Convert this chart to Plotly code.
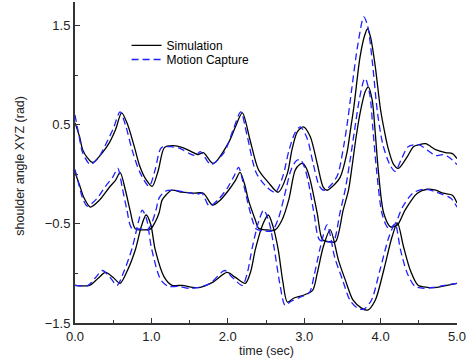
import plotly.graph_objects as go

# ---- data ----
sim_a_t = [0.00,0.06,0.10,0.16,0.23,0.36,0.45,0.53,0.61,0.68,0.78,0.84,0.92,1.01,1.09,1.17,1.28,1.41,1.55,1.61,1.68,1.81,2.01,2.10,2.19,2.29,2.40,2.53,2.66,2.78,2.84,2.91,2.99,3.08,3.17,3.25,3.30,3.40,3.47,3.56,3.60,3.65,3.73,3.79,3.83,3.87,3.93,4.00,4.06,4.10,4.17,4.23,4.35,4.43,4.50,4.59,4.72,4.85,4.94,5.00]
sim_a_y = [0.52,0.38,0.25,0.17,0.12,0.22,0.32,0.45,0.62,0.52,0.27,0.10,-0.04,-0.12,0.04,0.27,0.29,0.27,0.22,0.20,0.22,0.11,0.32,0.48,0.62,0.35,0.05,-0.08,-0.18,0.01,0.25,0.43,0.48,0.38,0.11,-0.13,-0.16,-0.10,-0.03,0.22,0.42,0.68,1.18,1.40,1.47,1.38,1.09,0.65,0.40,0.26,0.10,0.06,0.18,0.28,0.30,0.31,0.25,0.22,0.21,0.16]

mocap_a_t = [0.00,0.05,0.10,0.20,0.30,0.40,0.50,0.59,0.66,0.75,0.85,0.97,1.05,1.13,1.25,1.38,1.50,1.58,1.64,1.78,1.95,2.07,2.17,2.25,2.37,2.50,2.62,2.72,2.80,2.88,2.95,3.04,3.12,3.20,3.26,3.36,3.44,3.52,3.57,3.62,3.70,3.78,3.83,3.89,3.96,4.03,4.12,4.19,4.27,4.36,4.50,4.62,4.72,4.82,4.90,5.00]
mocap_a_y = [0.60,0.40,0.22,0.10,0.16,0.30,0.46,0.63,0.50,0.24,0.02,-0.12,0.05,0.27,0.28,0.26,0.21,0.19,0.23,0.10,0.22,0.45,0.63,0.40,0.02,-0.12,-0.18,-0.02,0.24,0.42,0.48,0.36,0.10,-0.12,-0.16,-0.10,0.00,0.30,0.55,0.85,1.30,1.59,1.50,1.15,0.62,0.30,0.10,0.03,0.15,0.28,0.30,0.24,0.19,0.20,0.17,0.10]

sim_b_t = [0.00,0.06,0.12,0.20,0.32,0.45,0.53,0.59,0.66,0.72,0.79,0.90,0.99,1.05,1.10,1.14,1.20,1.27,1.40,1.55,1.68,1.80,1.90,2.01,2.10,2.16,2.22,2.27,2.36,2.40,2.50,2.62,2.71,2.80,2.88,2.94,2.98,3.03,3.08,3.17,3.24,3.33,3.41,3.51,3.58,3.63,3.68,3.74,3.80,3.84,3.89,3.93,3.97,4.04,4.13,4.22,4.32,4.48,4.61,4.72,4.82,4.94,5.00]
sim_b_y = [0.02,-0.11,-0.24,-0.33,-0.26,-0.13,-0.06,0.02,-0.16,-0.36,-0.55,-0.56,-0.55,-0.48,-0.39,-0.26,-0.20,-0.16,-0.18,-0.19,-0.19,-0.31,-0.26,-0.16,-0.06,0.02,-0.10,-0.26,-0.46,-0.54,-0.56,-0.56,-0.46,-0.25,0.04,0.10,0.11,0.06,-0.06,-0.39,-0.66,-0.68,-0.68,-0.36,-0.16,0.10,0.38,0.65,0.84,0.88,0.75,0.42,0.04,-0.39,-0.53,-0.51,-0.36,-0.19,-0.15,-0.16,-0.19,-0.21,-0.29]

mocap_b_t = [0.00,0.05,0.10,0.16,0.28,0.40,0.50,0.56,0.62,0.68,0.74,0.85,0.95,1.01,1.06,1.10,1.18,1.30,1.45,1.60,1.66,1.76,1.88,2.00,2.08,2.14,2.20,2.26,2.33,2.37,2.48,2.58,2.66,2.74,2.83,2.90,2.95,3.00,3.05,3.13,3.20,3.30,3.38,3.47,3.54,3.60,3.66,3.72,3.78,3.80,3.86,3.90,3.95,4.02,4.10,4.19,4.28,4.42,4.56,4.70,4.80,4.92,5.00]
mocap_b_y = [0.05,-0.10,-0.24,-0.32,-0.25,-0.12,-0.02,0.06,-0.14,-0.36,-0.54,-0.55,-0.56,-0.48,-0.36,-0.24,-0.17,-0.16,-0.18,-0.20,-0.19,-0.32,-0.25,-0.13,-0.02,0.07,-0.08,-0.28,-0.48,-0.55,-0.57,-0.57,-0.45,-0.22,0.05,0.14,0.15,0.08,-0.06,-0.40,-0.66,-0.68,-0.68,-0.38,-0.14,0.14,0.45,0.75,0.95,0.97,0.80,0.45,0.02,-0.40,-0.54,-0.50,-0.34,-0.19,-0.15,-0.17,-0.20,-0.24,-0.33]

sim_c_t = [0.00,0.19,0.30,0.40,0.50,0.59,0.68,0.79,0.87,0.93,0.99,1.05,1.17,1.27,1.40,1.54,1.64,1.80,1.99,2.10,2.23,2.30,2.36,2.46,2.53,2.59,2.66,2.72,2.78,2.86,2.99,3.11,3.17,3.25,3.34,3.45,3.54,3.64,3.75,3.83,3.93,4.04,4.15,4.22,4.30,4.39,4.49,4.61,4.74,4.87,5.00]
sim_c_y = [-1.12,-1.12,-1.05,-0.99,-1.04,-1.10,-0.98,-0.76,-0.52,-0.41,-0.50,-0.76,-1.04,-1.12,-1.12,-1.14,-1.14,-1.09,-0.99,-1.04,-1.10,-0.98,-0.76,-0.50,-0.41,-0.52,-0.76,-1.08,-1.29,-1.25,-1.22,-1.17,-1.00,-0.73,-0.56,-0.87,-1.07,-1.27,-1.35,-1.37,-1.27,-0.97,-0.63,-0.49,-0.73,-0.97,-1.12,-1.14,-1.14,-1.12,-1.10]

mocap_c_t = [0.00,0.17,0.27,0.36,0.46,0.55,0.64,0.75,0.83,0.88,0.94,1.00,1.12,1.22,1.35,1.50,1.62,1.77,1.96,2.06,2.19,2.26,2.32,2.41,2.47,2.54,2.61,2.68,2.75,2.83,2.95,3.07,3.13,3.21,3.30,3.40,3.50,3.60,3.70,3.78,3.88,3.99,4.11,4.19,4.26,4.35,4.45,4.57,4.70,4.84,5.00]
mocap_c_y = [-1.12,-1.12,-1.04,-0.97,-1.04,-1.12,-0.98,-0.74,-0.48,-0.36,-0.46,-0.74,-1.06,-1.13,-1.13,-1.15,-1.14,-1.10,-0.97,-1.04,-1.12,-0.98,-0.74,-0.46,-0.36,-0.48,-0.76,-1.10,-1.32,-1.28,-1.24,-1.19,-1.02,-0.74,-0.51,-0.84,-1.06,-1.27,-1.35,-1.36,-1.27,-0.97,-0.63,-0.50,-0.76,-1.00,-1.13,-1.15,-1.14,-1.12,-1.10]

x_ticks = [0, 1, 2, 3, 4, 5]
y_ticks = [-1.5, -0.5, 0.5, 1.5]
x_title = "time (sec)"
y_title = "shoulder angle XYZ (rad)"

FONT = "Liberation Sans, Arial, Helvetica, sans-serif"
BLACK = "#000000"
BLUE = "#1f1fff"

fig = go.Figure()
sim_sets = [(sim_a_t, sim_a_y), (sim_b_t, sim_b_y), (sim_c_t, sim_c_y)]
mocap_sets = [(mocap_a_t, mocap_a_y), (mocap_b_t, mocap_b_y), (mocap_c_t, mocap_c_y)]

for i, (t, y) in enumerate(sim_sets):
    fig.add_trace(go.Scatter(x=t, y=y, mode="lines", name="Simulation",
                             legend="legend", showlegend=(i == 0),
                             line=dict(color=BLACK, width=1.3, shape="spline", smoothing=0.8)))
for i, (t, y) in enumerate(mocap_sets):
    fig.add_trace(go.Scatter(x=t, y=y, mode="lines", name="Motion Capture",
                             legend="legend2", showlegend=(i == 0),
                             line=dict(color=BLUE, width=1.3, dash="7px,4px", shape="spline", smoothing=0.8)))

leg_common = dict(xanchor="left", yanchor="top", bgcolor="rgba(0,0,0,0)", borderwidth=0,
                  font=dict(family=FONT, size=12, color="#000"))

fig.update_layout(
    width=471, height=364,
    margin=dict(l=75, r=14, t=2, b=41, autoexpand=False),
    paper_bgcolor="white", plot_bgcolor="white",
    font=dict(family=FONT, size=13, color="#222"),
    legend=dict(x=0.135, y=0.91, **leg_common),
    legend2=dict(x=0.135, y=0.866, **leg_common),
    xaxis=dict(range=[0, 5], tickvals=x_ticks, tickformat=".1f", automargin=False,
               showgrid=False, zeroline=False, showline=True, linecolor="#333", linewidth=2,
               ticks="inside", ticklen=5, tickcolor="#333", tickwidth=1,
               minor=dict(dtick=0.5, tick0=0, ticks="inside", ticklen=3, tickcolor="#333", tickwidth=1)),
    yaxis=dict(range=[-1.5, 1.74], tickvals=y_ticks, tickformat=".1f", automargin=False,
               showgrid=False, zeroline=False, showline=True, linecolor="#333", linewidth=2,
               ticks="inside", ticklen=5, tickcolor="#333", tickwidth=1,
               minor=dict(dtick=0.5, tick0=-1.5, ticks="inside", ticklen=3, tickcolor="#333", tickwidth=1),
               ticklabelstandoff=0),
    annotations=[
        dict(text=x_title, xref="paper", yref="paper", x=0.5, y=-0.088,
             xanchor="center", yanchor="middle", showarrow=False,
             font=dict(family=FONT, size=12.5, color="#222")),
        dict(text=y_title, xref="paper", yref="paper", x=-0.144, y=0.49,
             xanchor="center", yanchor="middle", textangle=-90, showarrow=False,
             font=dict(family=FONT, size=12.5, color="#222")),
    ],
)

fig.write_html("out.html", config={"displayModeBar": False},
               post_script="document.body.style.margin='0';document.body.style.padding='0';")
